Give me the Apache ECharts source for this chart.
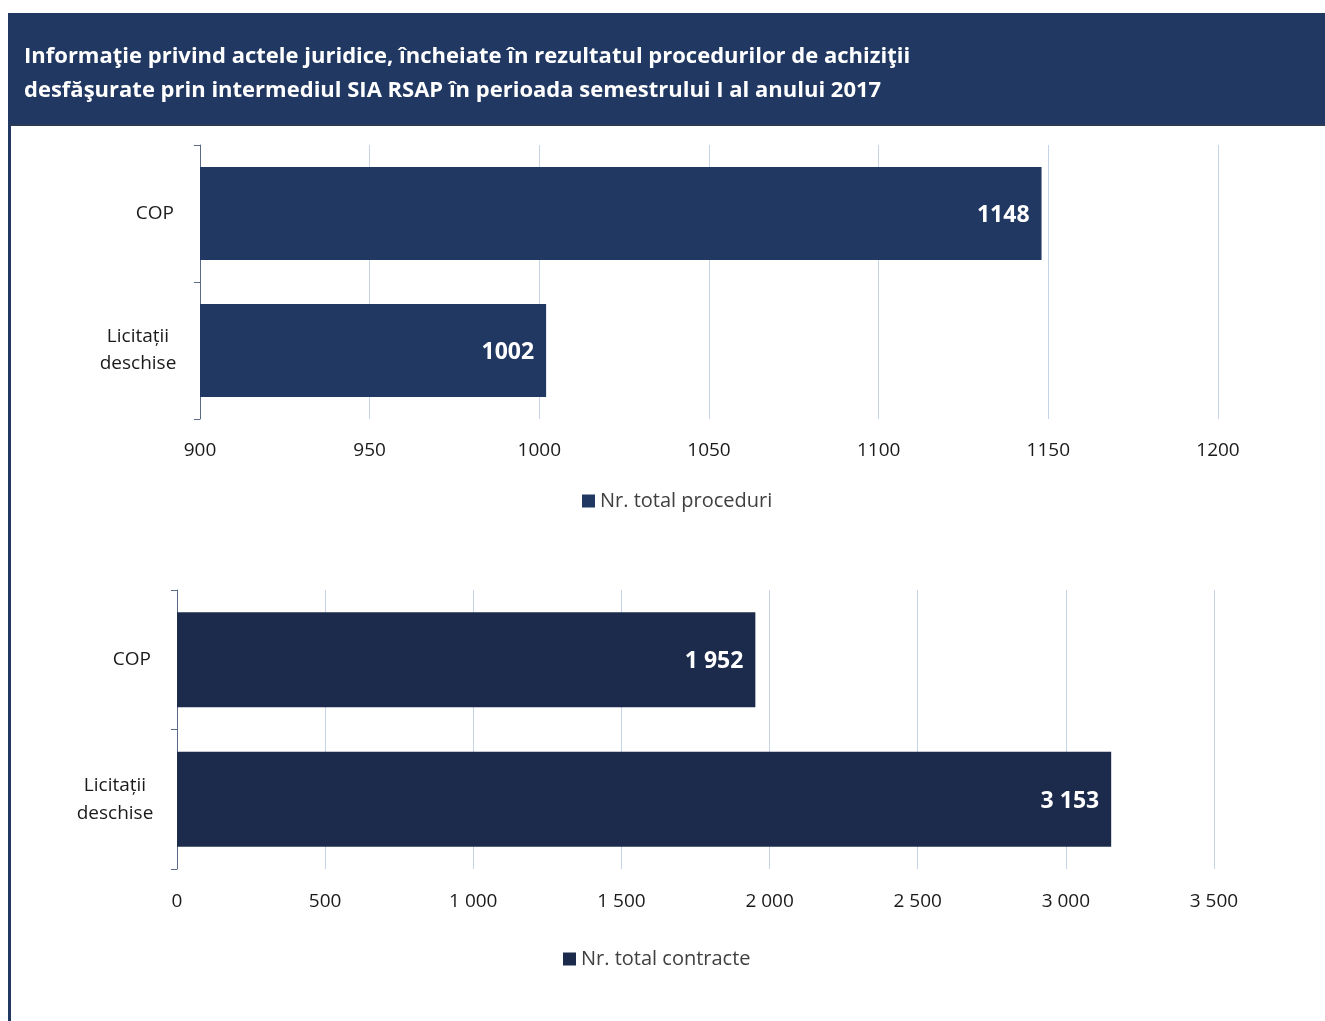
<!DOCTYPE html>
<html><head><meta charset="utf-8">
<script src="https://cdn.jsdelivr.net/npm/echarts@6/dist/echarts.min.js"></script>
<style>html,body{margin:0;padding:0;background:#fff}#c{width:1325px;height:1021px}</style>
</head><body><div id="c"></div>
<script>
const titleLines = ["Informaţie privind actele juridice, încheiate în rezultatul procedurilor de achiziţii", "desfăşurate prin intermediul SIA RSAP în perioada semestrului I al anului 2017"];
const categories = ["COP", "Licitații\ndeschise"];
const proceduri = [1148, 1002];
const contracte = [1952, 3153];
const seriesNames = ["Nr. total proceduri", "Nr. total contracte"];
const topTicks = {min: 900, max: 1200, interval: 50};
const bottomTicks = {min: 0, max: 3500, interval: 500};

const FONT = "'Open Sans', 'Noto Sans', sans-serif";
const fmtSpace = v => String(v).replace(/\B(?=(\d{3})+(?!\d))/g, ' ');

const chart = echarts.init(document.getElementById('c'));
const axisTxt = {color: '#1a1a1a', fontSize: 19, fontFamily: FONT};
const gridLine = {show: true, lineStyle: {color: '#c5d3e8', width: 1}};
const catAxisLine = {show: true, lineStyle: {color: '#5a6a86', width: 1}};

function catLabel(lh) {
  return {
    margin: 22, align: 'right',
    formatter: v => v.indexOf('\n') >= 0
      ? v.split('\n').map(s => '{m|' + s + '}').join('\n')
      : '{s|' + v + '}',
    rich: {
      m: {width: 80, align: 'center', fontSize: 19, fontFamily: FONT, color: '#1a1a1a', lineHeight: lh},
      s: {padding: [0, 4, 0, 0], fontSize: 19, fontFamily: FONT, color: '#1a1a1a', lineHeight: lh}
    }
  };
}

chart.setOption({
  animation: false,
  graphic: [
    {type: 'rect', shape: {x: 8, y: 13, width: 1317, height: 112}, style: {fill: '#213863'}},
    {type: 'rect', shape: {x: 8, y: 124, width: 1317, height: 2}, style: {fill: '#2d3b57'}},
    {type: 'rect', shape: {x: 8, y: 125, width: 3, height: 896}, style: {fill: '#213863'}},
    {type: 'text', left: 24, top: 40, style: {text: titleLines.join('\n'), fill: '#ffffff', font: "bold 22px " + FONT, lineHeight: 34}}
  ],
  legend: [
    {data: [seriesNames[0]], top: 486, left: 577, itemWidth: 13, itemHeight: 13, icon: 'rect', itemGap: 4, textStyle: {fontSize: 20, color: '#404040', fontFamily: FONT}},
    {data: [seriesNames[1]], top: 944, left: 558, itemWidth: 13, itemHeight: 13, icon: 'rect', itemGap: 4, textStyle: {fontSize: 20, color: '#404040', fontFamily: FONT}}
  ],
  grid: [
    {left: 200, right: 107, top: 145, height: 274},
    {left: 177, right: 111, top: 590, height: 279}
  ],
  xAxis: [
    {gridIndex: 0, type: 'value', min: topTicks.min, max: topTicks.max, interval: topTicks.interval,
     axisLine: {show: false}, axisTick: {show: false}, splitLine: gridLine,
     axisLabel: Object.assign({margin: 22, formatter: v => String(v)}, axisTxt)},
    {gridIndex: 1, type: 'value', min: bottomTicks.min, max: bottomTicks.max, interval: bottomTicks.interval,
     axisLine: {show: false}, axisTick: {show: false}, splitLine: gridLine,
     axisLabel: Object.assign({margin: 23, formatter: fmtSpace}, axisTxt)}
  ],
  yAxis: [
    {gridIndex: 0, type: 'category', data: categories, inverse: true,
     axisLine: catAxisLine, axisTick: {show: true, length: 6, lineStyle: {color: '#5a6a86'}},
     axisLabel: catLabel(27)},
    {gridIndex: 1, type: 'category', data: categories, inverse: true,
     axisLine: catAxisLine, axisTick: {show: true, length: 6, lineStyle: {color: '#5a6a86'}},
     axisLabel: catLabel(28)}
  ],
  series: [
    {name: seriesNames[0], type: 'bar', xAxisIndex: 0, yAxisIndex: 0, data: proceduri, barWidth: '68%',
     itemStyle: {color: '#213863'},
     label: {show: true, position: 'insideRight', distance: 12, offset: [0, 2], color: '#fff', fontWeight: 'bold', fontSize: 23, fontFamily: FONT}},
    {name: seriesNames[1], type: 'bar', xAxisIndex: 1, yAxisIndex: 1, data: contracte, barWidth: '68%',
     itemStyle: {color: '#1c2b4c'},
     label: {show: true, position: 'insideRight', distance: 12, offset: [0, 2], color: '#fff', fontWeight: 'bold', fontSize: 23, fontFamily: FONT, formatter: p => fmtSpace(p.value)}}
  ]
});
</script></body></html>
